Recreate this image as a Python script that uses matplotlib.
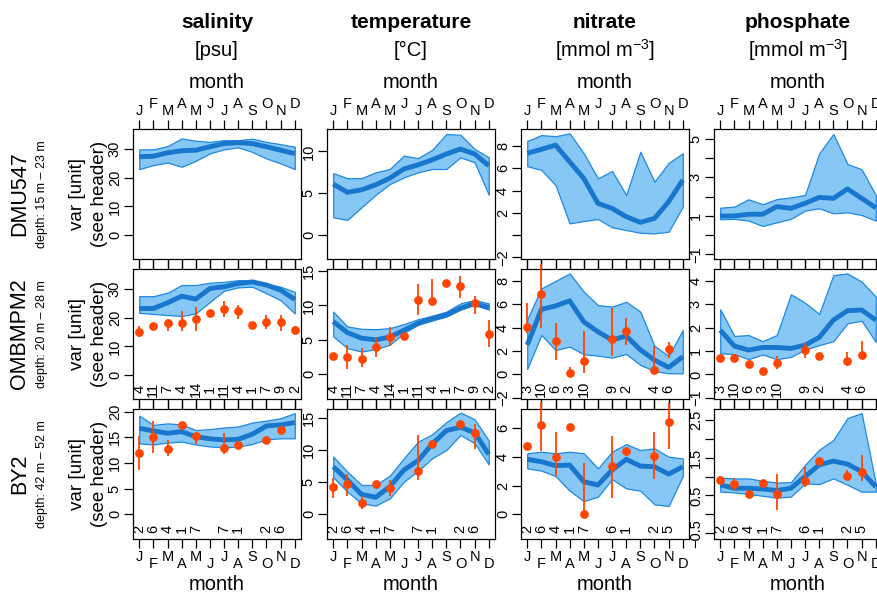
import numpy as np
import matplotlib
matplotlib.use("Agg")
import matplotlib.pyplot as plt
import matplotlib.transforms as mtransforms

plt.rcParams['font.family'] = ['Liberation Sans', 'DejaVu Sans']
plt.rcParams['mathtext.fontset'] = 'custom'
plt.rcParams['mathtext.rm'] = 'Liberation Sans'
plt.rcParams['mathtext.it'] = 'Liberation Sans:italic'

nan = np.nan

months = np.arange(1, 13)
month_letters = ['J', 'F', 'M', 'A', 'M', 'J', 'J', 'A', 'S', 'O', 'N', 'D']

variables = ['salinity', 'temperature', 'nitrate', 'phosphate']
units = ['[psu]', '[°C]', '[mmol m$^{-3}$]', '[mmol m$^{-3}$]']

stations = ['DMU547', 'OMBMPM2', 'BY2']
depths = ['depth: 15 m – 23 m', 'depth: 20 m – 28 m', 'depth: 42 m – 52 m']

# ---- DMU547: model climatology only ----
dmu_sal_mid = [27.3, 27.5, 28.7, 29.4, 29.6, 30.8, 31.9, 32.2, 31.9, 30.8, 29.6, 28.4]
dmu_sal_hi = [29.9, 29.9, 31.0, 33.7, 32.9, 32.5, 33.1, 33.1, 33.6, 32.5, 31.7, 30.8]
dmu_sal_lo = [23.0, 24.4, 25.3, 23.8, 25.9, 28.5, 29.9, 30.6, 29.0, 26.7, 25.0, 23.0]

dmu_tem_mid = [6.1, 5.1, 5.4, 6.0, 6.8, 7.9, 8.4, 9.0, 9.7, 10.3, 9.7, 8.3]
dmu_tem_hi = [7.4, 6.8, 6.8, 7.5, 7.9, 9.5, 9.2, 10.2, 12.1, 12.0, 10.3, 9.3]
dmu_tem_lo = [2.1, 1.8, 3.3, 4.8, 6.1, 6.9, 7.5, 7.9, 7.9, 9.3, 8.7, 4.8]

dmu_nit_mid = [7.36, 7.72, 8.1, 6.6, 5.1, 2.85, 2.4, 1.65, 1.14, 1.5, 3.0, 4.95]
dmu_nit_hi = [8.47, 9.0, 8.9, 9.16, 7.36, 5.1, 5.77, 3.6, 7.5, 4.8, 6.5, 7.36]
dmu_nit_lo = [6.2, 5.86, 4.5, 1.05, 1.26, 1.44, 0.69, 0.45, 0.2, 0.15, 0.3, 2.55]

dmu_pho_mid = [0.99, 0.99, 1.08, 1.08, 1.48, 1.39, 1.65, 1.96, 1.91, 2.4, 1.91, 1.42]
dmu_pho_hi = [1.42, 1.48, 1.86, 1.6, 1.87, 1.96, 2.08, 4.25, 5.26, 3.7, 3.42, 2.08]
dmu_pho_lo = [0.82, 0.84, 0.75, 0.47, 0.66, 0.84, 1.27, 1.39, 1.13, 1.18, 1.04, 0.75]

# ---- OMBMPM2 ----
omb_sal_mid = [23.2, 23.2, 25.2, 27.5, 26.5, 30.2, 30.8, 31.9, 32.5, 31.4, 29.6, 26.4]
omb_sal_hi = [27.5, 27.5, 28.7, 31.4, 31.4, 32.2, 32.5, 33.1, 33.0, 31.9, 30.8, 29.0]
omb_sal_lo = [21.7, 21.3, 20.9, 20.6, 21.5, 25.5, 29.4, 30.6, 30.8, 28.5, 26.1, 21.5]
omb_sal_obs = [15.1, 17.2, 18.0, 18.0, 19.5, 21.7, 23.0, 22.4, 17.4, 18.6, 18.6, 15.7]
omb_sal_obs_hi = [17.2, nan, 19.7, 22.4, 23.8, nan, 25.8, 24.4, nan, 20.9, 20.9, 17.2]
omb_sal_obs_lo = [13.1, nan, 15.5, 15.5, 15.3, nan, 20.3, 19.4, nan, 15.9, 15.3, 14.3]

omb_tem_mid = [7.66, 6.06, 5.24, 5.0, 5.4, 6.4, 7.4, 8.1, 8.6, 9.6, 10.3, 9.7]
omb_tem_hi = [9.1, 6.94, 6.6, 6.55, 6.7, 7.3, 8.0, 8.5, 9.1, 10.3, 10.8, 10.3]
omb_tem_lo = [5.5, 3.8, 3.3, 3.65, 4.3, 6.0, 7.2, 7.8, 8.4, 9.4, 10.1, 9.4]
omb_tem_obs = [2.7, 2.56, 2.18, 4.03, 5.35, 5.6, 10.8, 10.7, 13.3, 12.8, 10.3, 5.9]
omb_tem_obs_hi = [nan, 4.3, 3.87, 5.24, 6.94, nan, 13.1, 13.9, nan, 14.3, 11.4, 7.9]
omb_tem_obs_lo = [nan, 0.73, 1.1, 2.56, 4.17, nan, 8.6, 10.2, nan, 11.1, 8.8, 3.9]

omb_nit_mid = [2.51, 5.57, 5.86, 6.3, 4.5, 3.65, 2.94, 3.28, 2.1, 1.22, 0.59, 1.51]
omb_nit_hi = [4.71, 7.37, 8.0, 8.65, 7.08, 5.94, 5.8, 6.22, 5.37, 2.43, 1.57, 3.8]
omb_nit_lo = [0.46, 3.37, 2.08, 2.37, 1.72, 1.6, 1.43, 1.74, 0.8, 0.28, 0.08, 0.08]
omb_nit_obs = [4.08, 6.88, 2.85, 0.14, 1.17, nan, 3.02, 3.74, nan, 0.37, 2.14, nan]
omb_nit_obs_hi = [6.08, 9.5, 4.37, 0.59, 3.71, nan, 5.65, 4.85, nan, 2.43, 2.8, nan]
omb_nit_obs_lo = [3.57, 3.94, 1.22, -0.06, 0.08, nan, 1.57, 2.51, nan, 0.03, 1.43, nan]

omb_pho_mid = [1.89, 1.21, 1.04, 1.15, 1.15, 1.11, 1.25, 1.58, 2.32, 2.72, 2.75, 2.32]
omb_pho_hi = [2.78, 1.64, 1.68, 1.42, 1.68, 3.42, 3.06, 2.58, 4.24, 4.31, 3.96, 3.32]
omb_pho_lo = [0.9, 0.87, 0.65, 0.85, 0.65, 0.75, 1.06, 1.25, 1.42, 2.18, 2.29, 1.39]
omb_pho_obs = [0.71, 0.71, 0.44, 0.16, 0.5, nan, 1.04, 0.79, nan, 0.58, 0.83, nan]
omb_pho_obs_hi = [nan, 0.87, nan, nan, 0.78, nan, 1.32, nan, nan, 0.97, 1.42, nan]
omb_pho_obs_lo = [nan, 0.65, nan, nan, 0.21, nan, 0.71, nan, nan, 0.36, 0.83, nan]

omb_n_ctd = [4, 11, 7, 4, 14, 1, 11, 4, 1, 7, 9, 2]
omb_n_nut = [3, 10, 6, 3, 10, 0, 9, 2, 0, 4, 6, 0]

# ---- BY2 ----
by2_sal_mid = [16.76, 16.24, 15.78, 16.1, 15.1, 14.7, 14.5, 14.6, 15.6, 17.2, 17.4, 17.86]
by2_sal_hi = [19.2, 17.4, 17.7, 17.5, 16.4, 16.6, 16.9, 17.1, 17.86, 18.25, 18.7, 19.7]
by2_sal_lo = [13.8, 13.6, 13.96, 14.16, 13.6, 13.2, 13.05, 13.2, 13.7, 14.6, 14.8, 14.8]
by2_sal_obs = [12.0, 15.1, 12.7, 17.4, 15.26, nan, 12.99, 13.4, nan, 14.5, 16.4, nan]
by2_sal_obs_hi = [15.26, 18.1, 14.5, nan, 15.9, nan, 15.9, nan, nan, nan, 17.2, nan]
by2_sal_obs_lo = [8.6, 12.0, 11.4, nan, 13.7, nan, 11.75, nan, nan, nan, 15.8, nan]

by2_tem_mid = [7.44, 5.36, 3.12, 2.65, 4.32, 6.93, 8.39, 10.99, 13.07, 13.6, 12.76, 9.37]
by2_tem_hi = [9.0, 6.66, 4.58, 4.58, 6.04, 8.75, 11.35, 12.5, 14.4, 15.88, 14.84, 11.51]
by2_tem_lo = [5.78, 3.54, 1.7, 1.35, 2.5, 5.1, 6.8, 8.75, 10.05, 12.4, 11.1, 7.8]
by2_tem_obs = [4.2, 4.68, 1.81, 4.68, 4.06, nan, 6.8, 10.94, nan, 14.06, 12.66, nan]
by2_tem_obs_hi = [5.72, 6.25, 2.86, nan, 5.36, nan, 12.4, nan, nan, 14.5, 14.1, nan]
by2_tem_obs_lo = [2.6, 2.92, 0.78, nan, 2.86, nan, 5.36, nan, nan, 13.4, 10.15, nan]

by2_nit_mid = [3.84, 3.67, 3.4, 3.44, 2.28, 2.05, 3.09, 3.84, 3.37, 3.32, 2.81, 3.32]
by2_nit_hi = [4.26, 4.37, 4.26, 4.37, 4.26, 3.21, 4.37, 4.9, 4.49, 4.6, 4.02, 3.9]
by2_nit_lo = [3.21, 3.05, 2.67, 1.65, 0.93, 1.23, 2.46, 1.81, 1.65, 0.7, 0.58, 2.67]
by2_nit_obs = [4.79, 6.23, 4.02, 6.07, 0.02, nan, 3.37, 4.44, nan, 4.07, 6.46, nan]
by2_nit_obs_hi = [nan, 7.84, 5.77, nan, 3.6, nan, 5.46, nan, nan, 5.72, 7.77, nan]
by2_nit_obs_lo = [nan, 4.44, 2.67, nan, 0.02, nan, 1.16, nan, nan, 2.44, 4.53, nan]

by2_pho_mid = [0.78, 0.69, 0.69, 0.67, 0.63, 0.69, 1.0, 1.31, 1.41, 1.33, 1.13, 0.73]
by2_pho_hi = [0.97, 0.95, 0.95, 0.89, 0.84, 0.85, 1.31, 1.71, 1.97, 2.55, 2.68, 0.82]
by2_pho_lo = [0.6, 0.58, 0.54, 0.49, 0.44, 0.47, 0.82, 0.8, 0.95, 0.78, 0.6, 0.6]
by2_pho_obs = [0.91, 0.81, 0.55, 0.84, 0.53, nan, 0.89, 1.41, nan, 1.01, 1.13, nan]
by2_pho_obs_hi = [1.01, 0.95, nan, nan, 1.07, nan, 1.26, nan, nan, 1.17, 1.58, nan]
by2_pho_obs_lo = [0.82, 0.64, nan, nan, 0.11, nan, 0.73, nan, nan, 0.91, 0.87, nan]

by2_n_ctd = [2, 6, 4, 1, 7, 0, 7, 1, 0, 2, 6, 0]
by2_n_nut = [2, 6, 4, 1, 7, 0, 6, 1, 0, 2, 5, 0]

# y axis setup per row/column: (ylim, ticks, tick labels)
yaxes = [
    [((-8.4, 37), [0, 10, 20, 30], ['0', '10', '20', '30']),
     ((-2.9, 12.7), [0, 5, 10], ['0', '5', '10']),
     ((-2.16, 9.55), [-2, 0, 2, 4, 6, 8], ['−2', '', '2', '4', '6', '8']),
     ((-1.25, 5.52), [-1, 0, 1, 2, 3, 4, 5], ['−1', '', '1', '', '3', '', '5'])],
    [((-8.4, 37), [0, 10, 20, 30], ['0', '10', '20', '30']),
     ((-3.6, 15.3), [0, 5, 10, 15], ['0', '5', '10', '15']),
     ((-2.12, 9.03), [-2, 0, 2, 4, 6, 8], ['−2', '0', '2', '4', '6', '8']),
     ((-1.05, 4.5), [-1, 0, 1, 2, 3, 4], ['−1', '0', '1', '2', '3', '4'])],
    [((-4.8, 20.5), [0, 5, 10, 15, 20], ['0', '5', '10', '15', '20']),
     ((-3.86, 16.45), [0, 5, 10, 15], ['0', '5', '10', '15']),
     ((-1.72, 7.35), [0, 2, 4, 6], ['0', '2', '4', '6']),
     ((-0.655, 2.79), [-0.5, 0, 0.5, 1, 1.5, 2, 2.5],
      ['−0.5', '', '0.5', '', '1.5', '', '2.5'])],
]

band_fill = '#86C7F6'
band_edge = '#1E88E5'
mean_col = '#1876CC'
obs_col = '#FF4500'

W, H = 877, 593


def px_rect(left, top, w, h):
    return [left / W, 1 - (top + h) / H, w / W, h / H]


def draw_panel(ax, mid, lo, hi, ylim, yticks, ylabels,
               obs=None, obs_lo=None, obs_hi=None, counts=None,
               top_labels=False, bottom_labels=False):
    ax.fill_between(months, lo, hi, facecolor=band_fill, edgecolor=band_edge,
                    lw=0.9, zorder=2)
    ax.plot(months, mid, color=mean_col, lw=3.5, solid_capstyle='butt',
            solid_joinstyle='round', zorder=3)
    if obs is not None:
        ax.vlines(months, obs_lo, obs_hi, color=obs_col, lw=1.3, zorder=4,
                  clip_on=False)
        ax.plot(months, obs, 'o', color=obs_col, ms=6.3, mec='none', zorder=5,
                clip_on=False)
        trans = mtransforms.blended_transform_factory(ax.transData, ax.transAxes)
        for m, n in zip(months, counts):
            if n > 0:
                ax.text(m, 0.075, str(n), transform=trans, rotation=90,
                        ha='center', va='center', fontsize=10.5)

    ax.set_xlim(0.56, 12.44)
    ax.set_ylim(*ylim)
    ax.set_xticks(months)
    ax.set_xticklabels([])
    ax.set_yticks(yticks)
    ax.set_yticklabels(ylabels, rotation=90, va='center')
    ax.tick_params(axis='x', direction='out', length=6.5, width=0.9,
                   top=True, bottom=True, labeltop=False, labelbottom=False)
    ax.tick_params(axis='y', direction='out', length=6.5, width=0.9, pad=1.5,
                   labelsize=10.5)
    for sp in ax.spines.values():
        sp.set_linewidth(0.9)

    # staggered month initials
    for m, letter in zip(months, month_letters):
        near = (m % 2 == 1)
        if top_labels:
            ax.annotate(letter, xy=(m, 1), xycoords=('data', 'axes fraction'),
                        xytext=(0, 12.7 if near else 18.2),
                        textcoords='offset points', ha='center', va='center',
                        fontsize=10.5, annotation_clip=False)
        if bottom_labels:
            ax.annotate(letter, xy=(m, 0), xycoords=('data', 'axes fraction'),
                        xytext=(0, -12.7 if near else -18.2),
                        textcoords='offset points', ha='center', va='center',
                        fontsize=10.5, annotation_clip=False)


def make_figure(fp):
    fig = plt.figure(figsize=(W / 100, H / 100), dpi=100)

    col_left = [133, 327, 521, 714]
    row_top = [129, 269, 409]
    pw, ph = 168, 130

    data = [
        [(dmu_sal_mid, dmu_sal_lo, dmu_sal_hi, None, None, None, None),
         (dmu_tem_mid, dmu_tem_lo, dmu_tem_hi, None, None, None, None),
         (dmu_nit_mid, dmu_nit_lo, dmu_nit_hi, None, None, None, None),
         (dmu_pho_mid, dmu_pho_lo, dmu_pho_hi, None, None, None, None)],
        [(omb_sal_mid, omb_sal_lo, omb_sal_hi, omb_sal_obs, omb_sal_obs_lo, omb_sal_obs_hi, omb_n_ctd),
         (omb_tem_mid, omb_tem_lo, omb_tem_hi, omb_tem_obs, omb_tem_obs_lo, omb_tem_obs_hi, omb_n_ctd),
         (omb_nit_mid, omb_nit_lo, omb_nit_hi, omb_nit_obs, omb_nit_obs_lo, omb_nit_obs_hi, omb_n_nut),
         (omb_pho_mid, omb_pho_lo, omb_pho_hi, omb_pho_obs, omb_pho_obs_lo, omb_pho_obs_hi, omb_n_nut)],
        [(by2_sal_mid, by2_sal_lo, by2_sal_hi, by2_sal_obs, by2_sal_obs_lo, by2_sal_obs_hi, by2_n_ctd),
         (by2_tem_mid, by2_tem_lo, by2_tem_hi, by2_tem_obs, by2_tem_obs_lo, by2_tem_obs_hi, by2_n_ctd),
         (by2_nit_mid, by2_nit_lo, by2_nit_hi, by2_nit_obs, by2_nit_obs_lo, by2_nit_obs_hi, by2_n_nut),
         (by2_pho_mid, by2_pho_lo, by2_pho_hi, by2_pho_obs, by2_pho_obs_lo, by2_pho_obs_hi, by2_n_nut)],
    ]

    for r in range(3):
        for c in range(4):
            ax = fig.add_axes(px_rect(col_left[c], row_top[r], pw, ph))
            mid, lo, hi, obs, olo, ohi, cnt = data[r][c]
            ylim, yt, yl = yaxes[r][c]
            draw_panel(ax, mid, lo, hi, ylim, yt, yl, obs, olo, ohi, cnt,
                       top_labels=(r == 0), bottom_labels=(r == 2))

    # column headers
    for c in range(4):
        xc = (col_left[c] + pw / 2) / W
        fig.text(xc, 1 - 22 / H, variables[c], ha='center', va='center',
                 fontsize=15, fontweight='bold')
        fig.text(xc, 1 - 50 / H, units[c], ha='center', va='center',
                 fontsize=14.5)
        fig.text(xc, 1 - 83 / H, 'month', ha='center', va='center',
                 fontsize=14.5)
        fig.text(xc, 1 - 584 / H, 'month', ha='center', va='center',
                 fontsize=14.5)

    # row headers
    for r in range(3):
        yc = 1 - (row_top[r] + ph / 2) / H
        fig.text(20 / W, yc, stations[r], rotation=90, ha='center',
                 va='center', fontsize=15.5)
        fig.text(42 / W, yc, depths[r], rotation=90, ha='center',
                 va='center', fontsize=9)
        fig.text(78 / W, yc, 'var [unit]', rotation=90, ha='center',
                 va='center', fontsize=13.5)
        fig.text(100 / W, yc, '(see header)', rotation=90, ha='center',
                 va='center', fontsize=13.5)

    fig.savefig(fp, dpi=100)


if __name__ == "__main__":
    make_figure("out.png")
